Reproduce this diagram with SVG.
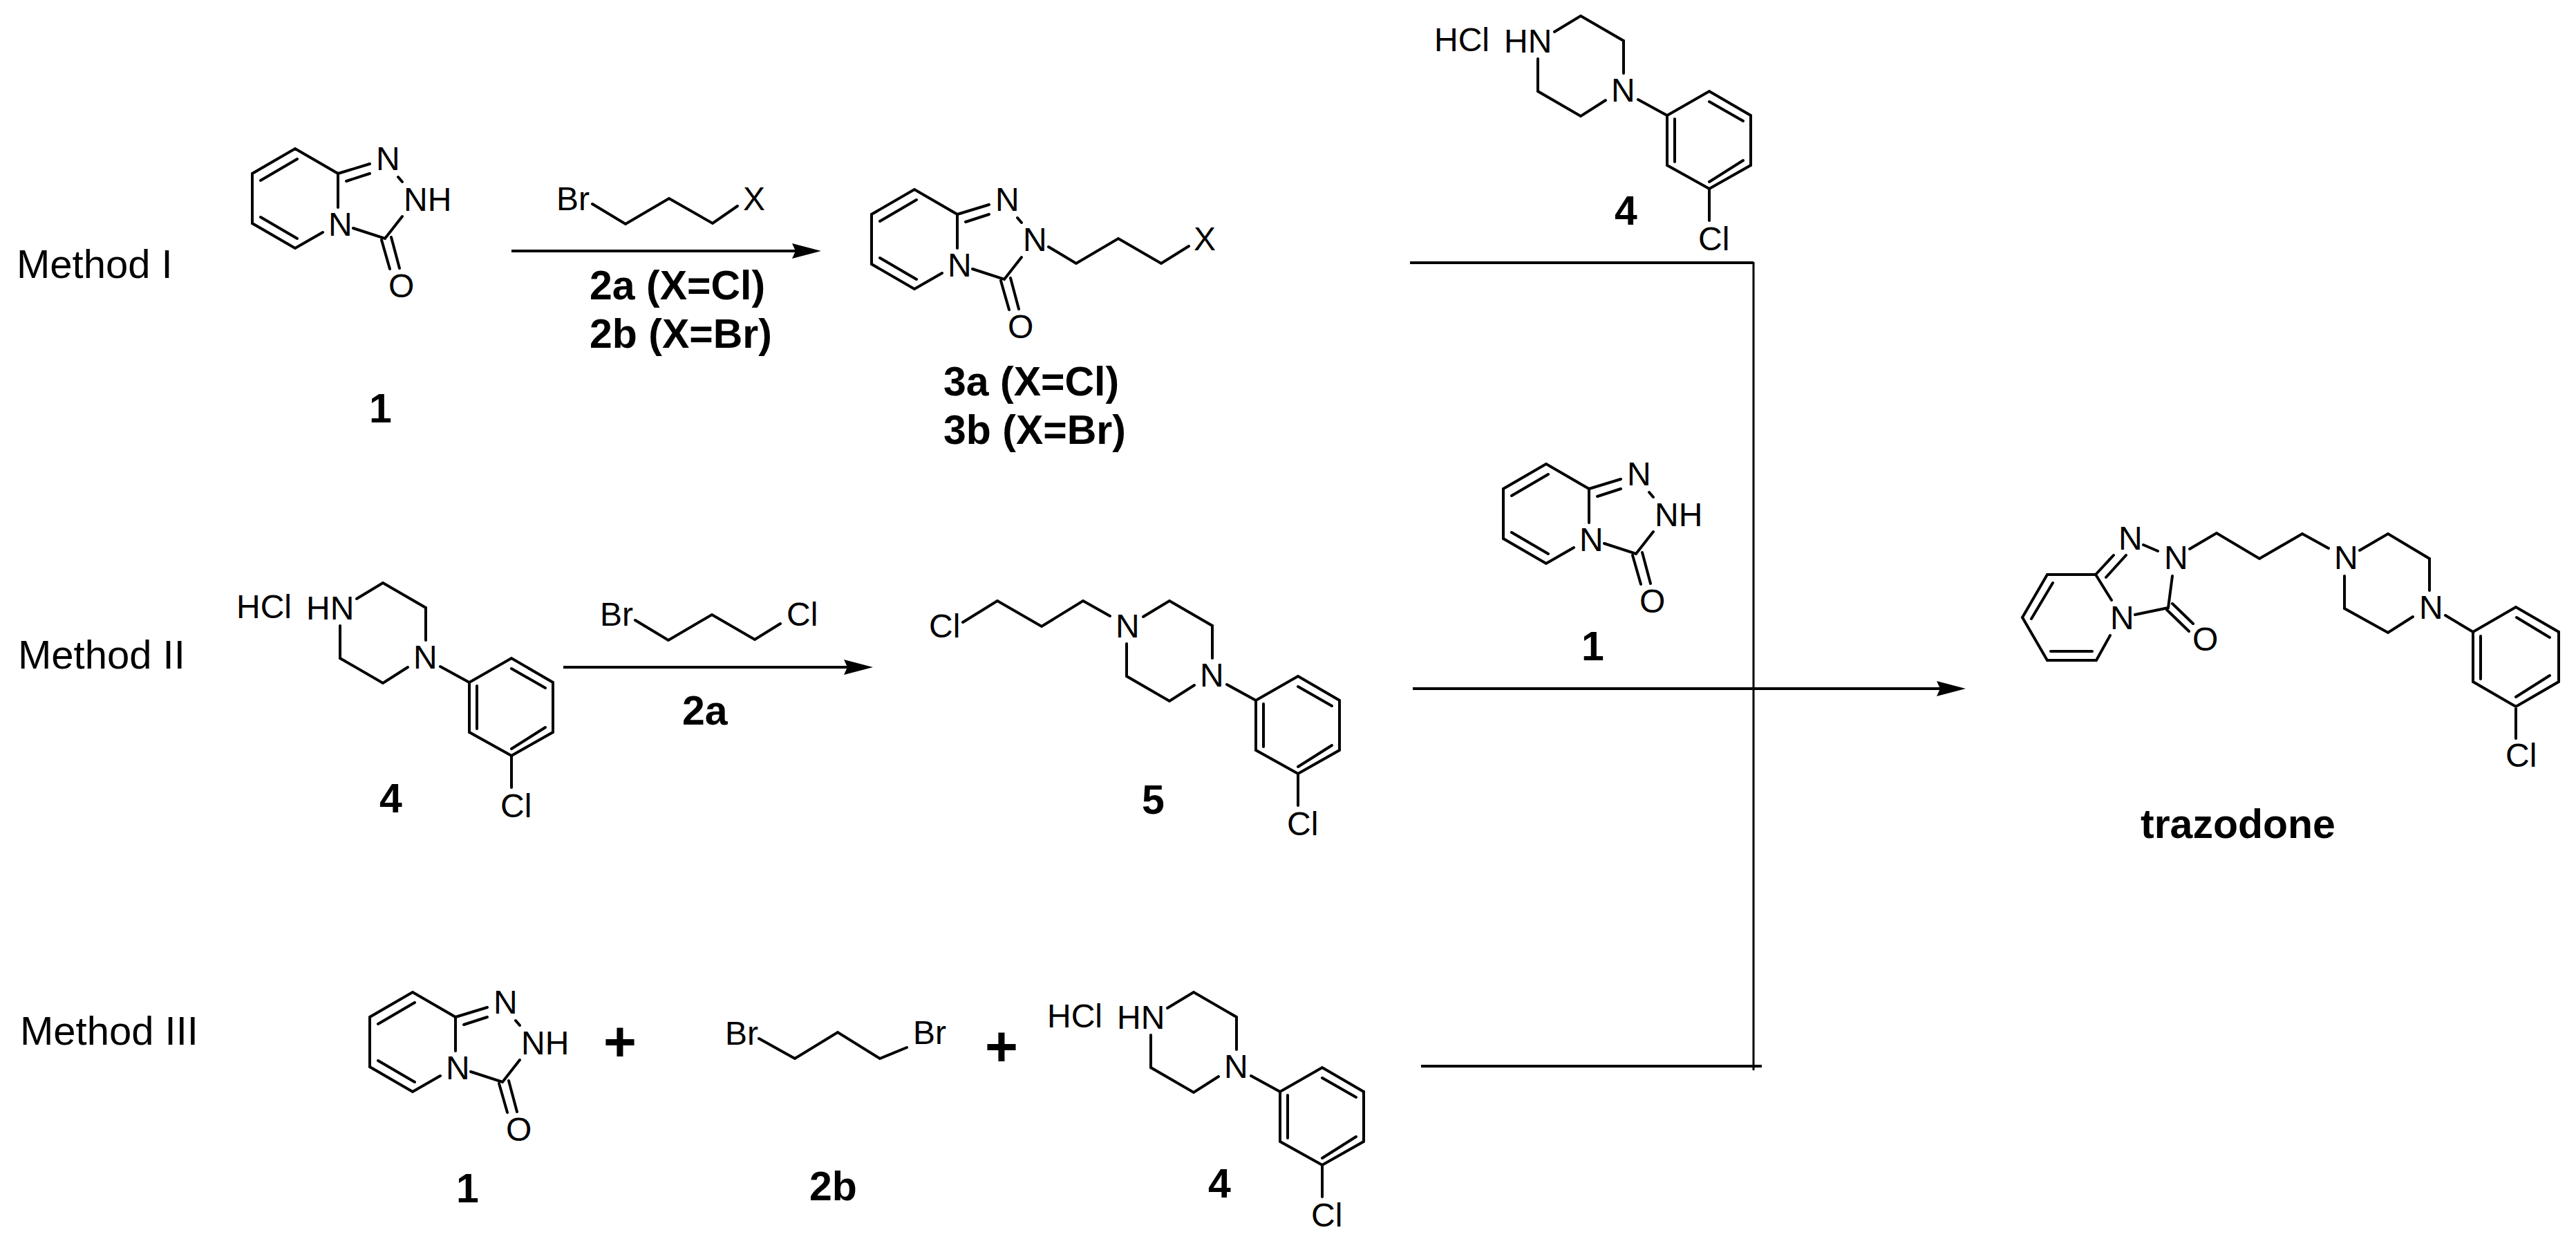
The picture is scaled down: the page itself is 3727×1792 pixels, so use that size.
<svg xmlns="http://www.w3.org/2000/svg" xmlns:xlink="http://www.w3.org/1999/xlink" width="3727" height="1792" viewBox="0 0 3727 1792">
<style>
text{font-family:"Liberation Sans",Arial,sans-serif;fill:#000}
.a{font-size:48px}
.m{font-size:58px}
.b{font-size:59px;font-weight:bold}
.p{font-size:82px;font-weight:bold;text-anchor:middle}
.bond{fill:none;stroke:#000;stroke-width:4;stroke-linejoin:miter;stroke-linecap:round}
.conn{fill:none;stroke:#000;stroke-width:4}
</style>
<defs>
<marker id="head" markerUnits="userSpaceOnUse" markerWidth="44" markerHeight="26" refX="32" refY="12" orient="auto"><path d="M0 1L42 12L0 23L5 12Z" fill="#000"/></marker>
<path id="triazolo" class="bond" d="M489 300L489 251L427 215L365 251L365 323L427 359L467 336M430 230L377 261M377 314L430 345M489 251L535 237M501 262L535 251M576 256L582 263M511 330L557 345L582 313M552 347L564 389M566 343L578 388"/>
<path id="arylpip" class="bond" d="M2249 46L2287 23L2349 59L2349 106M2225 85L2225 132L2287 168L2323 145M2370 144L2412 167L2473 132L2533 167L2533 239L2473 273L2412 239L2412 167M2473 147L2522 175M2423 172L2423 234M2522 232L2473 263M2473 273L2473 319"/>
</defs>
<rect width="3727" height="1792" fill="#fff"/>
<g id="labels-methods">
<text class="m" x="24" y="402">Method I</text>
<text class="m" x="26" y="967">Method II</text>
<text class="m" x="29" y="1511">Method III</text>
</g>
<g id="connectors">
<path class="conn" d="M740 363H1178" marker-end="url(#head)"/>
<path class="conn" d="M815 965H1253" marker-end="url(#head)"/>
<path class="conn" d="M2044 996H2834" marker-end="url(#head)"/>
<path class="conn" d="M2040 380H2537"/>
<path class="conn" style="stroke-width:3" d="M2537 379V1548"/>
<path class="conn" d="M2056 1542H2549"/>
</g>
<g id="node-1a">
<use href="#triazolo"/>
<text class="a" x="544" y="246">N</text><text class="a" x="584" y="305">NH</text><text class="a" x="475" y="341">N</text><text class="a" x="562" y="430">O</text>
<text class="b" x="534" y="611">1</text>
</g>
<g id="node-2x">
<path class="bond" d="M857 295L905 324L968 287L1031 323L1067 298"/>
<text class="a" x="805" y="304">Br</text><text class="a" x="1075" y="304">X</text>
<text class="b" x="853" y="433">2a (X=Cl)</text><text class="b" x="853" y="503">2b (X=Br)</text>
</g>
<g id="node-3">
<use href="#triazolo" transform="translate(896 59)"/>
<path class="bond" d="M1517 357L1557 381L1618 345L1680 381L1720 356"/>
<text class="a" x="1440" y="305">N</text><text class="a" x="1480" y="363">N</text><text class="a" x="1371" y="400">N</text><text class="a" x="1458" y="489">O</text><text class="a" x="1727" y="362">X</text>
<text class="b" x="1365" y="572">3a (X=Cl)</text><text class="b" x="1365" y="642">3b (X=Br)</text>
</g>
<g id="node-4a">
<use href="#arylpip"/>
<text class="a" x="2075" y="74">HCl</text><text class="a" x="2176" y="76">HN</text><text class="a" x="2331" y="147">N</text><text class="a" x="2457" y="362">Cl</text>
<text class="b" x="2336" y="325">4</text>
</g>
<g id="node-1b">
<use href="#triazolo" transform="translate(1810 456)"/>
<text class="a" x="2354" y="702">N</text><text class="a" x="2394" y="761">NH</text><text class="a" x="2285" y="797">N</text><text class="a" x="2372" y="886">O</text>
<text class="b" x="2288" y="955">1</text>
</g>
<g id="node-4b">
<use href="#arylpip" transform="translate(-1733 820)"/>
<text class="a" x="342" y="894">HCl</text><text class="a" x="443" y="896">HN</text><text class="a" x="598" y="967">N</text><text class="a" x="724" y="1182">Cl</text>
<text class="b" x="549" y="1175">4</text>
</g>
<g id="node-2a">
<path class="bond" d="M919 897L967 926L1030 889L1092 925L1129 902"/>
<text class="a" x="868" y="905">Br</text><text class="a" x="1138" y="905">Cl</text>
<text class="b" x="987" y="1048">2a</text>
</g>
<g id="node-5">
<use href="#arylpip" transform="translate(-595 846)"/>
<path class="bond" d="M1393 900L1443 869L1507 906L1567 869L1606 891"/>
<text class="a" x="1344" y="922">Cl</text><text class="a" x="1614" y="922">N</text><text class="a" x="1736" y="993">N</text><text class="a" x="1862" y="1208">Cl</text>
<text class="b" x="1652" y="1177">5</text>
</g>
<g id="node-trazodone">
<path class="bond" d="M3055 868L3032 831L2962 831L2926 893L2962 955L3033 955L3053 919M2970 843L2939 895M2967 942L3027 942M3032 831L3058 803M3047 835L3076 803M3101 788L3122 797M3143 833L3137 879L3089 889M3135 882L3167 913M3143 873L3173 902M3168 794L3207 771L3269 808L3331 772L3369 793M3414 796L3455 772L3515 808L3515 854M3392 833L3392 880L3455 915L3491 892M3538 890L3578 914L3640 878L3702 914L3702 986L3640 1022L3578 986L3578 914M3641 893L3689 922M3589 920L3589 982M3689 977L3640 1008M3640 1022L3640 1068"/>
<text class="a" x="3065" y="795">N</text><text class="a" x="3131" y="823">N</text><text class="a" x="3053" y="910">N</text><text class="a" x="3172" y="941">O</text><text class="a" x="3377" y="823">N</text><text class="a" x="3500" y="895">N</text><text class="a" x="3625" y="1109">Cl</text>
<text class="b" x="3097" y="1212">trazodone</text>
</g>
<g id="node-1c">
<use href="#triazolo" transform="translate(170 1220)"/>
<text class="a" x="714" y="1466">N</text><text class="a" x="754" y="1525">NH</text><text class="a" x="645" y="1561">N</text><text class="a" x="732" y="1650">O</text>
<text class="b" x="660" y="1739">1</text>
</g>
<text class="p" x="897" y="1534">+</text>
<g id="node-2b">
<path class="bond" d="M1098 1502L1150 1531L1212 1493L1273 1531L1312 1515"/>
<text class="a" x="1049" y="1511">Br</text><text class="a" x="1321" y="1510">Br</text>
<text class="b" x="1171" y="1736">2b</text>
</g>
<text class="p" x="1449" y="1541">+</text>
<g id="node-4c">
<use href="#arylpip" transform="translate(-560 1412)"/>
<text class="a" x="1515" y="1486">HCl</text><text class="a" x="1616" y="1488">HN</text><text class="a" x="1771" y="1559">N</text><text class="a" x="1897" y="1774">Cl</text>
<text class="b" x="1748" y="1732">4</text>
</g>
</svg>
